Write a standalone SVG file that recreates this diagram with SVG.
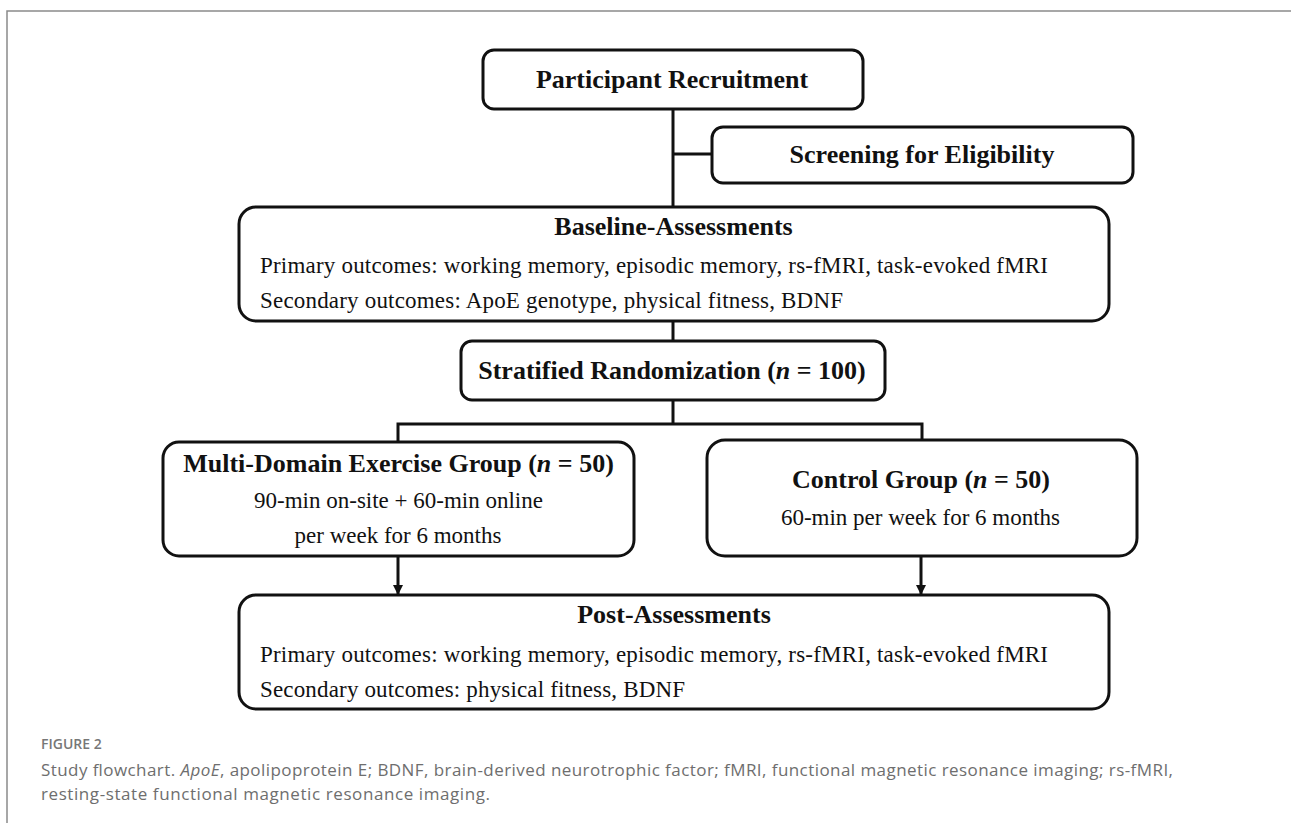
<svg xmlns="http://www.w3.org/2000/svg" width="1291" height="823" viewBox="0 0 1291 823">
  <style>
    .box { fill: #ffffff; stroke: #111111; stroke-width: 3; }
    .conn { fill: none; stroke: #111111; stroke-width: 3; }
    .title { font-family: "Liberation Serif", "Times New Roman", serif; font-weight: bold; font-size: 26px; fill: #111111; text-anchor: middle; }
    .body { font-family: "Liberation Serif", "Times New Roman", serif; font-size: 23px; fill: #111111; }
    .mid { text-anchor: middle; }
    .cap { font-family: "Open Sans", "Liberation Sans", sans-serif; font-size: 17px; fill: #6e6e6e; }
    .fig { font-family: "Open Sans", "Liberation Sans", sans-serif; font-size: 14px; font-weight: 600; fill: #777777; }
  </style>
  <defs>
    <marker id="arrow" viewBox="0 0 10 10" refX="10" refY="5" markerWidth="10" markerHeight="10" markerUnits="userSpaceOnUse" orient="auto">
      <path d="M0,0 L10,5 L0,10 Z" fill="#111111"/>
    </marker>
  </defs>
  <rect x="0" y="0" width="1291" height="823" fill="#ffffff"/>
  <path d="M7 823 V11 H1291" fill="none" stroke="#8a8a8a" stroke-width="1.5"/>

  <g id="connectors">
    <path class="conn" d="M673 109 V207"/>
    <path class="conn" d="M673 154 H712"/>
    <path class="conn" d="M673 321 V341"/>
    <path class="conn" d="M673 400 V424"/>
    <path class="conn" d="M398 442 V424 H922 V440"/>
    <path class="conn" d="M398 556 V595" marker-end="url(#arrow)"/>
    <path class="conn" d="M921 556 V595" marker-end="url(#arrow)"/>
  </g>

  <g id="participant-recruitment">
    <rect class="box" x="483" y="50" width="380" height="59" rx="11"/>
    <text class="title" x="672" y="88">Participant Recruitment</text>
  </g>

  <g id="screening">
    <rect class="box" x="712" y="127" width="421" height="56" rx="11"/>
    <text class="title" x="922" y="163">Screening for Eligibility</text>
  </g>

  <g id="baseline-assessments">
    <rect class="box" x="239" y="207" width="870" height="114" rx="17"/>
    <text class="title" x="673.5" y="235">Baseline-Assessments</text>
    <text class="body" x="260" y="273" textLength="788" lengthAdjust="spacing">Primary outcomes: working memory, episodic memory, rs-fMRI, task-evoked fMRI</text>
    <text class="body" x="260" y="308" textLength="583" lengthAdjust="spacing">Secondary outcomes: ApoE genotype, physical fitness, BDNF</text>
  </g>

  <g id="stratified-randomization">
    <rect class="box" x="461" y="341" width="424" height="59" rx="11"/>
    <text class="title" x="672" y="379">Stratified Randomization (<tspan font-style="italic">n</tspan> = 100)</text>
  </g>

  <g id="exercise-group">
    <rect class="box" x="163" y="442" width="471" height="114" rx="16"/>
    <text class="title" x="398.5" y="472">Multi-Domain Exercise Group (<tspan font-style="italic">n</tspan> = 50)</text>
    <text class="body mid" x="398.5" y="508">90-min on-site + 60-min online</text>
    <text class="body mid" x="398" y="543">per week for 6 months</text>
  </g>

  <g id="control-group">
    <rect class="box" x="707" y="440" width="430" height="116" rx="18"/>
    <text class="title" x="921" y="488">Control Group (<tspan font-style="italic">n</tspan> = 50)</text>
    <text class="body mid" x="920.5" y="525">60-min per week for 6 months</text>
  </g>

  <g id="post-assessments">
    <rect class="box" x="239" y="595" width="870" height="114" rx="17"/>
    <text class="title" x="674" y="623">Post-Assessments</text>
    <text class="body" x="260" y="662" textLength="788" lengthAdjust="spacing">Primary outcomes: working memory, episodic memory, rs-fMRI, task-evoked fMRI</text>
    <text class="body" x="260" y="697" textLength="425" lengthAdjust="spacing">Secondary outcomes: physical fitness, BDNF</text>
  </g>

  <g id="caption">
    <text class="fig" x="41" y="749">FIGURE 2</text>
    <text class="cap" x="41" y="776" textLength="1132" lengthAdjust="spacing">Study flowchart. <tspan font-style="italic">ApoE</tspan>, apolipoprotein E; BDNF, brain-derived neurotrophic factor; fMRI, functional magnetic resonance imaging; rs-fMRI,</text>
    <text class="cap" x="41" y="800" textLength="449" lengthAdjust="spacing">resting-state functional magnetic resonance imaging.</text>
  </g>
</svg>
